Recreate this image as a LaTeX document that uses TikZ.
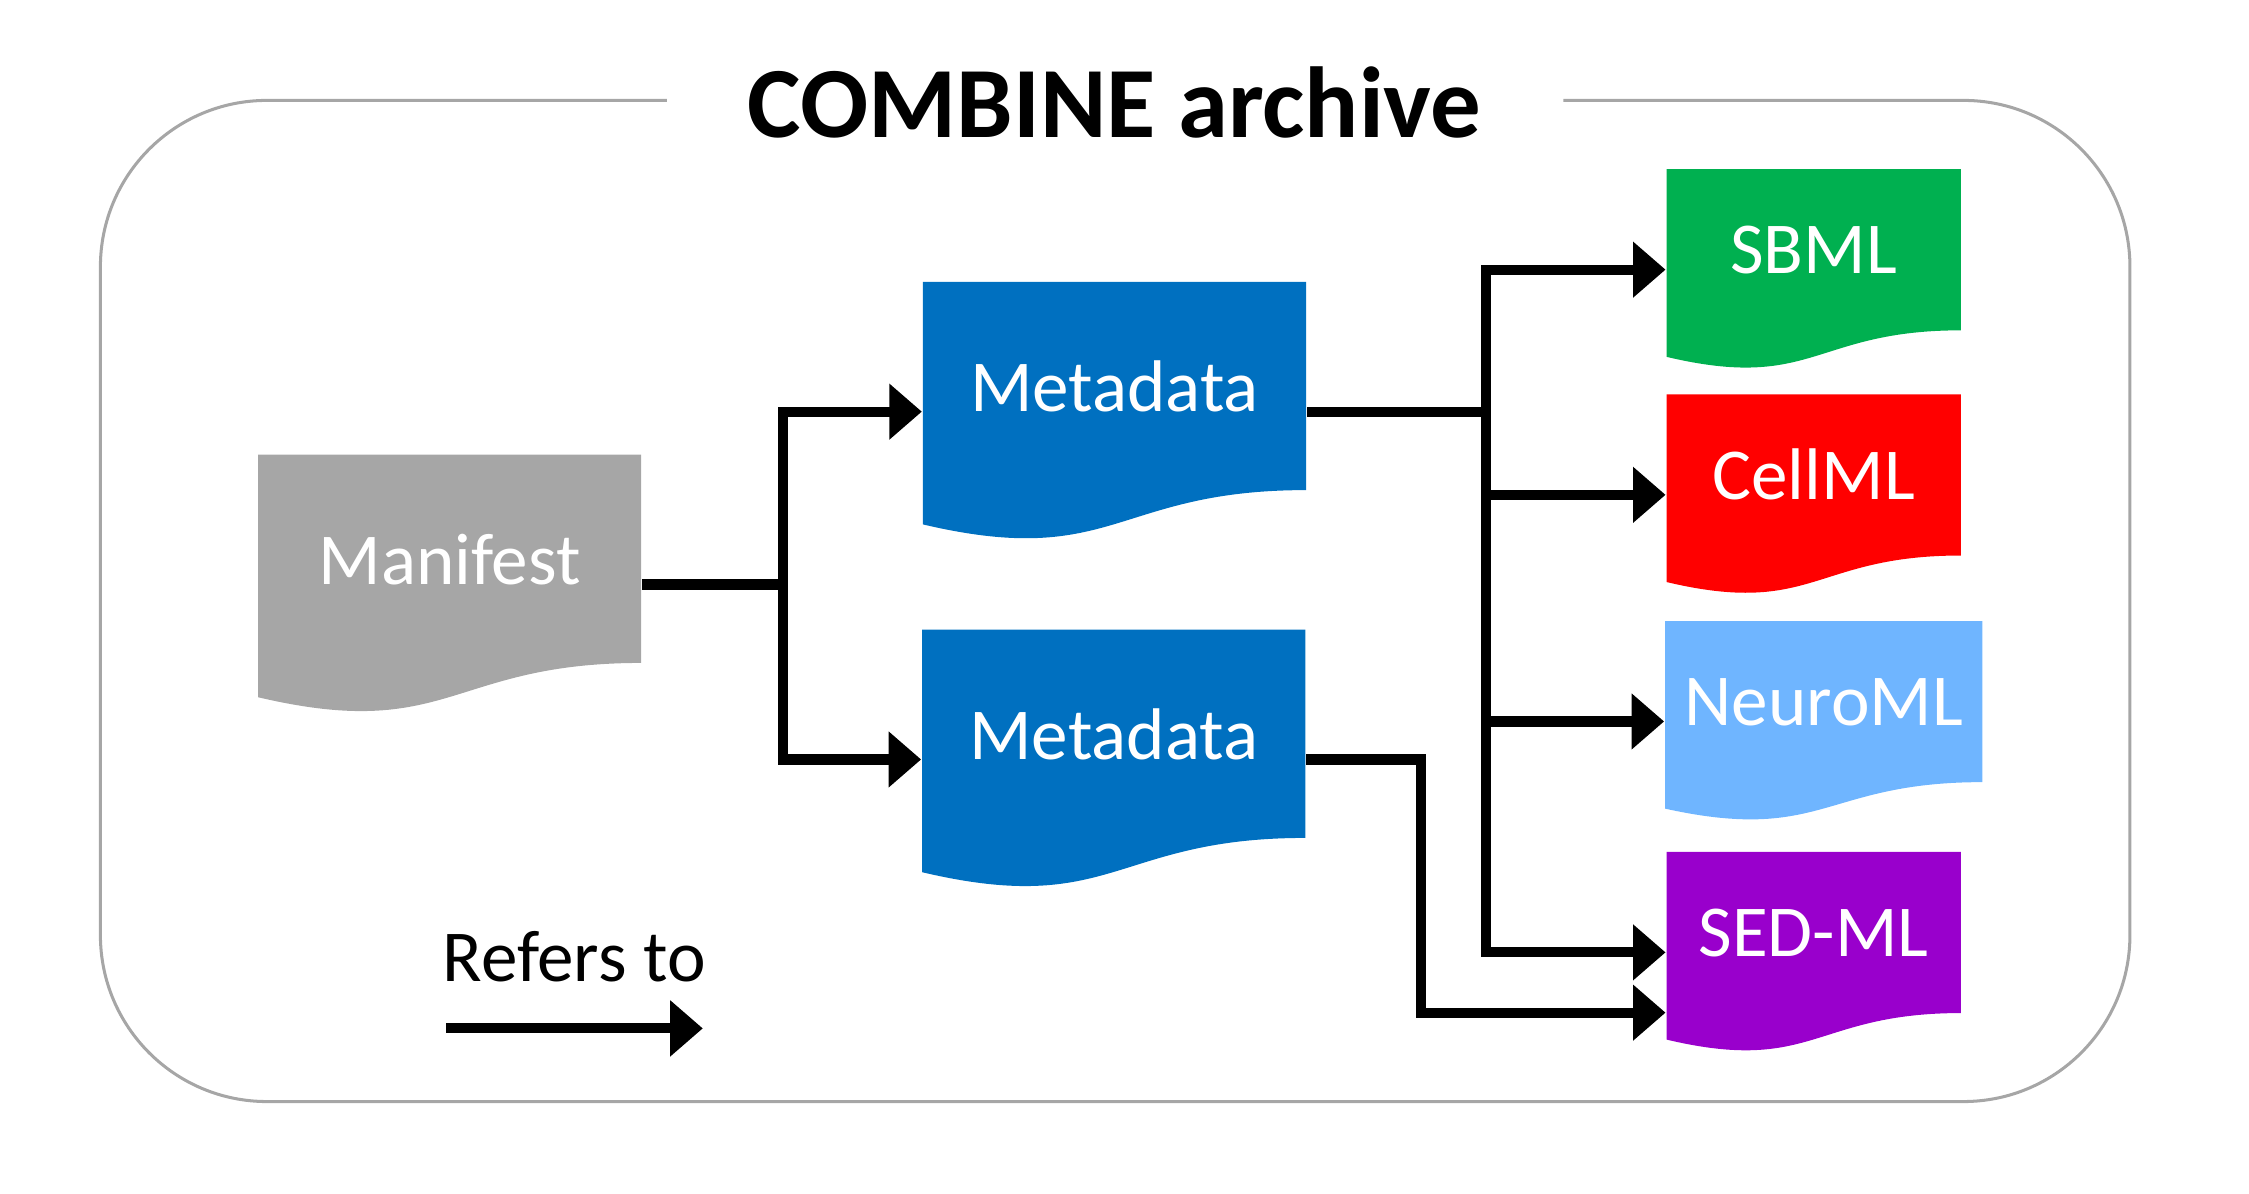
\documentclass[tikz,border=0pt]{standalone}
\usepackage{fontspec}
\setmainfont{Carlito}
\usetikzlibrary{arrows.meta,calc}
\definecolor{mangray}{RGB}{166,166,166}
\definecolor{metablue}{RGB}{0,112,192}
\definecolor{sbmlgreen}{RGB}{0,176,80}
\definecolor{cellred}{RGB}{255,0,0}
\definecolor{neuroblue}{RGB}{111,181,255}
\definecolor{sedpurple}{RGB}{153,0,204}
\definecolor{framegray}{RGB}{166,166,166}

\tikzset{
  doc/.style={rectangle, inner sep=0pt, text=white, font=\fontsize{14.5}{17}\selectfont,
    text height=0pt, text depth=0pt,
    path picture={\fill[#1] let \p1=(path picture bounding box.north west),
      \p2=(path picture bounding box.south east) in
      (\x1,\y1) -- (\x2,\y1) -- (\x2,{\y1-0.802*(\y1-\y2)})
      .. controls ({(\x1+\x2)/2},{\y1-0.802*(\y1-\y2)}) and ({(\x1+\x2)/2},{\y1-1.1075*(\y1-\y2)})
      .. (\x1,{\y1-0.934*(\y1-\y2)}) -- cycle;}},
  bigdoc/.style={doc=#1, minimum width=2.67cm, minimum height=1.81cm},
  smalldoc/.style={doc=#1, minimum width=2.05cm, minimum height=1.4cm, text height=0.06cm},
  refer/.style={line width=2pt, -{Triangle[length=0.227cm, width=0.377cm]}},
  legendtext/.style={inner sep=0pt, font=\fontsize{14.5}{17}\selectfont},
  heading/.style={inner sep=0pt, font=\fontsize{20}{24}\selectfont\bfseries},
}

\begin{document}
\begin{tikzpicture}[x=0.01cm, y=0.01cm]
\useasboundingbox (0,0) rectangle (1568,832);

% archive frame, open at the top for the title
\draw[framegray, line width=0.6pt, rounded corners=1.16cm] (465,762) -- (70,762) -- (70,64) -- (1485,64) -- (1485,762) -- (1090,762);
\node[heading, anchor=base] (archive) at (777,736) {COMBINE archive};

% documents
\node[bigdoc=mangray] (man) at (313.5,424.5) {Manifest};
\node[bigdoc=metablue] (meta1) at (777,545) {Metadata};
\node[bigdoc=metablue] (meta2) at (776.5,302.5) {Metadata};
\node[smalldoc=sbmlgreen] (sbml) at (1264.5,644) {SBML};
\node[smalldoc=cellred] (cellml) at (1264.5,487) {CellML};
\node[smalldoc=neuroblue, minimum width=2.21cm] (neuroml) at (1271.5,329) {NeuroML};
\node[smalldoc=sedpurple] (sedml) at (1264.5,168) {SED-ML};

% references
\foreach \t in {meta1,meta2}
  \draw[refer] (man.east) -- ++(98,0) |- (\t.west);
\foreach \t in {sbml,cellml,neuroml,sedml}
  \draw[refer] (meta1.east) -- ++(125,0) |- (\t.west);
\draw[refer] (meta2.east) -- ++(80,0) |- ([yshift=-0.42cm]sedml.west);

% legend
\node[legendtext, anchor=base west] (refers) at (308,148) {Refers to};
\coordinate (legfrom) at (311,115);
\coordinate (legto) at (490,115);
\draw[refer] (legfrom) -- (legto);
\end{tikzpicture}
\end{document}
